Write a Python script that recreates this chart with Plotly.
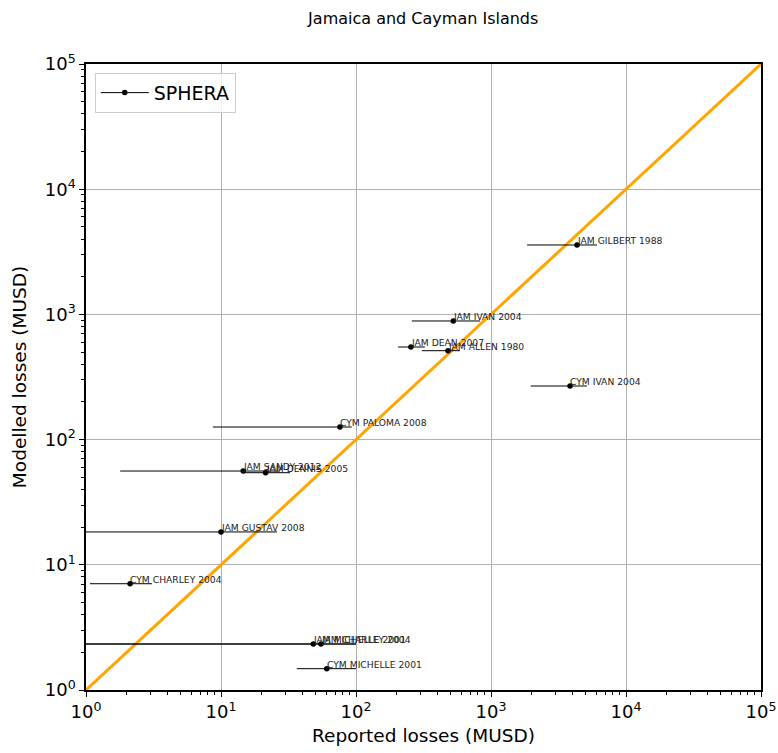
import math
import plotly.graph_objects as go

# Storm events: reported vs modelled losses (MUSD)
events = ["JAM GILBERT 1988", "JAM IVAN 2004", "JAM DEAN 2007", "JAM ALLEN 1980",
          "CYM IVAN 2004", "CYM PALOMA 2008", "JAM SANDY 2012", "JAM DENNIS 2005",
          "JAM GUSTAV 2008", "CYM CHARLEY 2004", "JAM MICHELLE 2001",
          "JAM CHARLEY 2004", "CYM MICHELLE 2001"]
reported = [4335, 526, 255, 480, 3850, 76, 14.6, 21.4, 10.0, 2.12, 48.3, 55.0, 60.7]
modelled = [3584, 886, 549, 513, 268, 126, 56.1, 54.4, 18.3, 7.06, 2.33, 2.33, 1.48]
reported_low = [1850, 259, 205, 308, 1970, 8.7, 1.79, 14.5, 0.5, 1.07, 0.5, 0.5, 36.4]
reported_high = [6100, 829, 324, 589, 5140, 93, 27.4, 32.5, 26, 3.08, 100, 100, 100]

diag = [1, 1e5]
decades = [1, 10, 100, 1000, 10000, 100000]
decade_labels = ["10<sup>0</sup>", "10<sup>1</sup>", "10<sup>2</sup>",
                 "10<sup>3</sup>", "10<sup>4</sup>", "10<sup>5</sup>"]
minor_vals = [m * 10 ** k for k in range(5) for m in range(2, 10)]

err_plus = [h - v for h, v in zip(reported_high, reported)]
err_minus = [v - l for v, l in zip(reported, reported_low)]

FONT = "DejaVu Sans"

fig = go.Figure()

# 1:1 reference line
fig.add_trace(go.Scatter(
    x=diag, y=diag, mode="lines",
    line=dict(color="#ffa500", width=3),
    showlegend=False, hoverinfo="skip",
))

# Events with reported-loss ranges
fig.add_trace(go.Scatter(
    x=reported, y=modelled, mode="markers",
    marker=dict(color="black", size=5.5),
    error_x=dict(type="data", symmetric=False, array=err_plus, arrayminus=err_minus,
                 color="black", thickness=1, width=0),
    showlegend=False, text=events,
))

# Legend entry (line + marker glyph)
fig.add_trace(go.Scatter(
    x=[None], y=[None], mode="lines+markers", name="SPHERA",
    line=dict(color="black", width=1), marker=dict(color="black", size=5.5),
))

for name, xv, yv in zip(events, reported, modelled):
    fig.add_annotation(
        x=math.log10(xv), y=math.log10(yv), text=name, showarrow=False,
        xanchor="left", yanchor="bottom", xshift=-2, yshift=-3,
        font=dict(family=FONT, size=9.2, color="#222222"),
    )

axis_common = dict(
    type="log", range=[0, 5], automargin=False,
    tickvals=decades, ticktext=decade_labels,
    tickfont=dict(family=FONT, size=18, color="black"),
    showgrid=True, gridcolor="#b0b0b0", gridwidth=1,
    showline=True, linecolor="black", linewidth=1.5, mirror=True,
    ticks="outside", ticklen=5, tickcolor="black", tickwidth=1,
    minor=dict(tickvals=minor_vals, ticks="outside", ticklen=3,
               tickcolor="black", showgrid=False),
    zeroline=False,
)

fig.update_xaxes(**axis_common,
                 title=dict(text="Reported losses (MUSD)",
                            font=dict(family=FONT, size=18.5, color="black"),
                            standoff=8))
fig.update_yaxes(**axis_common,
                 title=dict(text="Modelled losses (MUSD)",
                            font=dict(family=FONT, size=18.5, color="black"),
                            standoff=13))

fig.update_layout(
    width=778, height=753,
    margin=dict(l=86, r=17, t=64, b=63),
    paper_bgcolor="white", plot_bgcolor="white",
    title=dict(text="Jamaica and Cayman Islands", x=0.544, xanchor="center",
               y=0.976, yanchor="middle",
               font=dict(family=FONT, size=16, color="black")),
    legend=dict(x=0.013, y=0.986, xanchor="left", yanchor="top",
                bgcolor="rgba(255,255,255,0.8)", bordercolor="#cccccc", borderwidth=1,
                itemwidth=48,
                font=dict(family=FONT, size=19, color="black")),
    showlegend=True,
)

fig.write_html("out.html")
